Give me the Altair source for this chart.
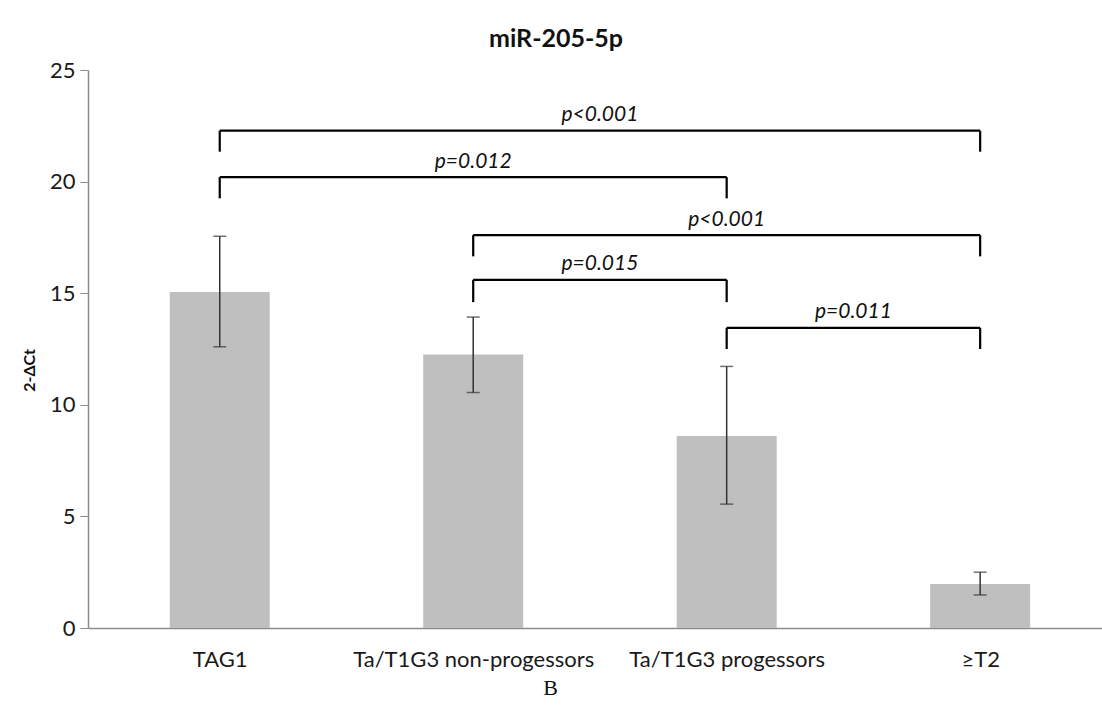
import altair as alt
import pandas as pd

categories = ["TAG1", "Ta/T1G3 non-progessors", "Ta/T1G3 progessors", "≥T2"]
means = [15.05, 12.25, 8.6, 1.97]
err_low = [12.6, 10.55, 5.55, 1.48]
err_high = [17.55, 13.93, 11.72, 2.5]

br_start = [0, 0, 1, 1, 2]
br_end = [3, 2, 3, 2, 3]
br_top = [22.28, 20.2, 17.6, 15.6, 13.45]
br_leg = [21.34, 19.25, 16.65, 14.6, 12.5]
br_label = ["p<0.001", "p=0.012", "p<0.001", "p=0.015", "p=0.011"]

bars = pd.DataFrame({"idx": list(range(len(categories))), "cat": categories,
                     "mean": means, "lo": err_low, "hi": err_high})
br = pd.DataFrame({"s": br_start, "e": br_end, "top": br_top, "leg": br_leg, "label": br_label})
br["mid"] = (br["s"] + br["e"]) / 2
br["ty"] = br["top"] + 0.42
legs = pd.concat([
    pd.DataFrame({"x": br["s"], "y1": br["top"], "y2": br["leg"]}),
    pd.DataFrame({"x": br["e"], "y1": br["top"], "y2": br["leg"]}),
])

FONT = "Lato"
label_expr = "[" + ",".join('"%s"' % c for c in categories) + "][datum.value]"

xscale = alt.Scale(domain=[-0.5, 3.461], nice=False, zero=False)
yscale = alt.Scale(domain=[0, 25], nice=False)

xaxis = alt.Axis(values=[0, 1, 2, 3], labelExpr=label_expr, ticks=False, grid=False,
                 domainColor="#8c8c8c", domainWidth=1.5, labelFont=FONT, labelFontSize=22,
                 labelLimit=400, labelColor="#1a1a1a", labelPadding=21, title="B",
                 titleFont="Liberation Serif", titleFontWeight="normal", titleFontSize=22,
                 titleColor="#111", titlePadding=7, titleX=462, titleAnchor="start",
                 titleAlign="center")
yaxis = alt.Axis(values=[0, 5, 10, 15, 20, 25], grid=False, tickSize=8, tickColor="#8c8c8c",
                 domainColor="#8c8c8c", domainWidth=1.5, labelFont=FONT, labelFontSize=22,
                 labelColor="#1a1a1a", labelPadding=5, title="2-ΔCt", titleFont=FONT,
                 titleFontSize=16, titleFontWeight="bold", titleColor="#111", titlePadding=12,
                 titleY=300, titleAnchor="start", titleAlign="center")

base_bars = alt.Chart(bars).mark_bar(size=100, color="#bfbfbf").encode(
    x=alt.X("idx:Q", scale=xscale, axis=xaxis),
    y=alt.Y("mean:Q", scale=yscale, axis=yaxis),
)
errs = alt.Chart(bars).mark_errorbar(ticks=alt.MarkConfig(size=13, color="#333", strokeWidth=1.5),
                                     color="#333", thickness=1.5).encode(
    x=alt.X("idx:Q", scale=xscale),
    y=alt.Y("lo:Q", scale=yscale, title=""),
    y2="hi:Q",
)
hlines = alt.Chart(br).mark_rule(color="black", strokeWidth=2.2).encode(
    x=alt.X("s:Q", scale=xscale), x2="e:Q", y=alt.Y("top:Q", scale=yscale))
vlines = alt.Chart(legs).mark_rule(color="black", strokeWidth=2.2).encode(
    x=alt.X("x:Q", scale=xscale), y=alt.Y("y1:Q", scale=yscale), y2="y2:Q")
texts = alt.Chart(br).mark_text(font=FONT, fontSize=21, fontStyle="italic", color="#111",
                                baseline="alphabetic", align="center").encode(
    x=alt.X("mid:Q", scale=xscale), y=alt.Y("ty:Q", scale=yscale), text="label:N")

chart = alt.layer(base_bars, errs, hlines, vlines, texts).properties(
    width=1014, height=558,
    title=alt.TitleParams("miR-205-5p", font=FONT, fontSize=25, fontWeight="bold",
                          color="#111", dx=-39, offset=7),
    autosize=alt.AutoSizeParams(type="none"),
    padding={"left": 88, "top": 70, "right": 0, "bottom": 90},
).configure_view(stroke=None)

chart.save("out.html", embed_options={"renderer": "svg", "actions": False})
